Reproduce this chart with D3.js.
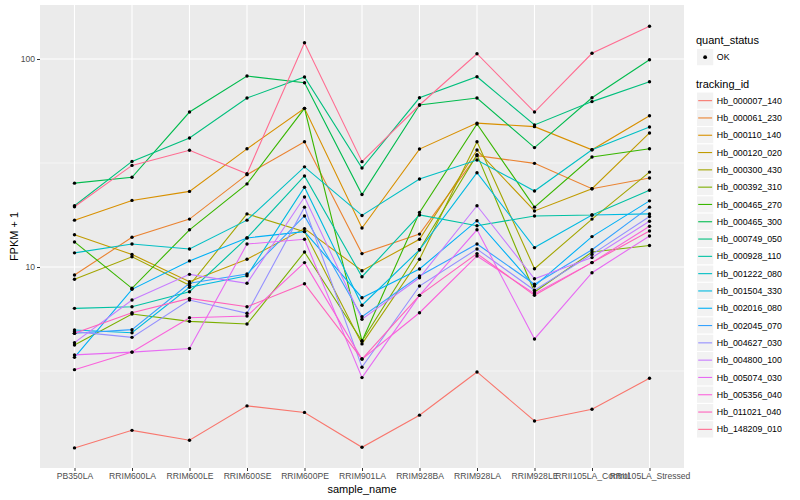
<!DOCTYPE html>
<html>
<head>
<meta charset="utf-8">
<script src="https://cdn.jsdelivr.net/npm/d3@7"></script>
<style>
  body { margin: 0; background: #fff; }
  svg { font-family: "Liberation Sans", Arial, sans-serif; }
</style>
</head>
<body>
<svg id="chart" width="800" height="500"></svg>
<script>
const sampleNames = ['PB350LA', 'RRIM600LA', 'RRIM600LE', 'RRIM600SE', 'RRIM600PE', 'RRIM901LA',
  'RRIM928BA', 'RRIM928LA', 'RRIM928LE', 'RRII105LA_Control', 'RRII105LA_Stressed'];

// FPKM + 1, one array per gene, in sample order
const hb_000007_140 = [1.35, 1.64, 1.47, 2.15, 2.00, 1.36, 1.94, 3.13, 1.82, 2.07, 2.92];
const hb_000061_230 = [9.15, 13.9, 17.0, 27.8, 40.0, 11.6, 14.4, 34.3, 31.5, 23.8, 26.8];
const hb_000110_140 = [16.8, 20.9, 23.1, 37.0, 57.9, 15.4, 36.9, 49.2, 47.3, 36.6, 53.4];
const hb_000120_020 = [14.3, 11.5, 8.50, 10.9, 15.3, 9.60, 13.6, 36.5, 18.6, 23.8, 44.1];
const hb_000300_430 = [8.73, 11.2, 8.17, 18.0, 14.8, 4.27, 10.9, 40.0, 9.81, 17.0, 28.6];
const hb_000392_310 = [4.22, 5.94, 5.48, 5.32, 11.8, 4.41, 12.1, 34.7, 7.58, 11.8, 12.7];
const hb_000465_270 = [13.2, 7.90, 15.1, 25.1, 57.9, 4.41, 18.3, 48.7, 19.4, 33.8, 37.0];
const hb_000465_300 = [25.3, 27.0, 55.6, 82.8, 76.9, 22.3, 60.1, 64.9, 37.5, 65.1, 99.2];
const hb_000749_050 = [19.7, 32.2, 41.7, 64.9, 81.9, 29.9, 65.1, 82.2, 48.2, 62.4, 77.8];
const hb_000928_110 = [6.33, 6.44, 7.61, 13.8, 27.4, 8.98, 17.8, 15.8, 17.6, 17.8, 23.4];
const hb_001222_080 = [11.7, 12.9, 12.2, 16.8, 30.3, 17.7, 26.5, 32.7, 23.2, 36.6, 47.1];
const hb_001504_330 = [4.98, 4.83, 7.99, 9.08, 24.2, 6.55, 12.1, 28.4, 12.4, 17.8, 18.0];
const hb_002016_080 = [3.68, 7.81, 10.7, 13.8, 14.8, 7.12, 9.78, 16.7, 8.10, 14.0, 20.8];
const hb_002045_070 = [4.80, 5.00, 8.35, 9.25, 17.6, 5.77, 9.05, 12.9, 8.26, 12.1, 19.4];
const hb_004627_030 = [4.89, 4.59, 6.94, 5.99, 19.4, 3.30, 8.10, 12.2, 7.73, 11.5, 17.5];
const hb_004800_100 = [4.33, 6.94, 9.22, 8.35, 21.7, 5.61, 8.88, 19.7, 8.78, 11.1, 16.6];
const hb_005074_030 = [3.78, 3.90, 4.06, 12.9, 13.6, 2.94, 7.31, 15.1, 4.51, 9.39, 14.1];
const hb_005356_040 = [3.21, 3.90, 5.70, 5.81, 10.5, 3.61, 6.03, 11.3, 7.44, 10.5, 15.7];
const hb_011021_040 = [4.80, 6.03, 7.07, 6.44, 8.31, 3.61, 7.31, 11.6, 7.31, 10.5, 14.9];
const hb_148209_010 = [19.5, 30.8, 36.4, 28.1, 119.7, 32.1, 60.1, 106, 55.6, 106.5, 143.6];

const trackingIds = ['Hb_000007_140', 'Hb_000061_230', 'Hb_000110_140', 'Hb_000120_020', 'Hb_000300_430',
  'Hb_000392_310', 'Hb_000465_270', 'Hb_000465_300', 'Hb_000749_050', 'Hb_000928_110', 'Hb_001222_080',
  'Hb_001504_330', 'Hb_002016_080', 'Hb_002045_070', 'Hb_004627_030', 'Hb_004800_100', 'Hb_005074_030',
  'Hb_005356_040', 'Hb_011021_040', 'Hb_148209_010'];
const seriesValues = [hb_000007_140, hb_000061_230, hb_000110_140, hb_000120_020, hb_000300_430,
  hb_000392_310, hb_000465_270, hb_000465_300, hb_000749_050, hb_000928_110, hb_001222_080,
  hb_001504_330, hb_002016_080, hb_002045_070, hb_004627_030, hb_004800_100, hb_005074_030,
  hb_005356_040, hb_011021_040, hb_148209_010];
const quantStatus = ['OK'];
const yTicks = [10, 100];
const yMinorTicks = [3.1623, 31.623];

// ggplot hue palette for 20 levels
const palette = ['#F8766D', '#EA8331', '#D89000', '#C09B00', '#A3A500', '#7CAE00', '#39B600', '#00BB4E',
  '#00BF7D', '#00C1A3', '#00BFC4', '#00BAE0', '#00B0F6', '#35A2FF', '#9590FF', '#C77CFF', '#E76BF3',
  '#FA62DB', '#FF62BC', '#FF6C91'];

const panel = { left: 40, right: 684, top: 5, bottom: 468 };
const svg = d3.select('#chart');

const x = d3.scalePoint()
  .domain(sampleNames)
  .range([panel.left, panel.right])
  .padding(0.6);

const y = d3.scaleLog()
  .domain([1.081, 181.8])
  .range([panel.bottom, panel.top]);

const color = d3.scaleOrdinal().domain(trackingIds).range(palette);

const series = trackingIds.map((id, i) => ({ id, values: seriesValues[i] }));

// panel + grid
svg.append('rect')
  .attr('x', panel.left).attr('y', panel.top)
  .attr('width', panel.right - panel.left).attr('height', panel.bottom - panel.top)
  .attr('fill', '#EBEBEB');

const grid = svg.append('g').attr('stroke', '#fff');
grid.selectAll('.minor').data(yMinorTicks).enter().append('line')
  .attr('x1', panel.left).attr('x2', panel.right)
  .attr('y1', d => y(d)).attr('y2', d => y(d))
  .attr('stroke-width', 0.55);
grid.selectAll('.major').data(yTicks).enter().append('line')
  .attr('x1', panel.left).attr('x2', panel.right)
  .attr('y1', d => y(d)).attr('y2', d => y(d))
  .attr('stroke-width', 1.1);
grid.selectAll('.vmajor').data(sampleNames).enter().append('line')
  .attr('x1', d => x(d)).attr('x2', d => x(d))
  .attr('y1', panel.top).attr('y2', panel.bottom)
  .attr('stroke-width', 1.1);

// lines
const line = d3.line()
  .x((d, i) => x(sampleNames[i]))
  .y(d => y(d));

svg.append('g').selectAll('path')
  .data(series)
  .enter().append('path')
  .attr('d', d => line(d.values))
  .attr('fill', 'none')
  .attr('stroke', d => color(d.id))
  .attr('stroke-width', 1.1);

// points
const pts = series.flatMap(s => s.values.map((v, i) => ({ sample: sampleNames[i], v })));
svg.append('g').selectAll('circle')
  .data(pts)
  .enter().append('circle')
  .attr('cx', d => x(d.sample))
  .attr('cy', d => y(d.v))
  .attr('r', 1.7)
  .attr('fill', '#000');

// axes
const yAxis = svg.append('g')
  .attr('transform', `translate(${panel.left},0)`)
  .call(d3.axisLeft(y).tickValues(yTicks).tickFormat(d3.format('d')).tickSize(3).tickPadding(2));
const xAxis = svg.append('g')
  .attr('transform', `translate(0,${panel.bottom})`)
  .call(d3.axisBottom(x).tickSize(3).tickPadding(2));

[yAxis, xAxis].forEach(a => {
  a.select('.domain').remove();
  a.selectAll('line').attr('stroke', '#333333');
  a.selectAll('text').attr('fill', '#4D4D4D').attr('font-size', '8.6px')
    .attr('font-family', '"Liberation Sans", Arial, sans-serif');
});

svg.append('text')
  .attr('x', (panel.left + panel.right) / 2).attr('y', 493)
  .attr('text-anchor', 'middle').attr('font-size', '11px')
  .text('sample_name');

svg.append('text')
  .attr('transform', `translate(18,${(panel.top + panel.bottom) / 2}) rotate(-90)`)
  .attr('text-anchor', 'middle').attr('font-size', '11px')
  .text('FPKM + 1');

// legends
const keySize = 17.3;
const legend = svg.append('g').attr('transform', 'translate(696,0)');

legend.append('text').attr('x', 0).attr('y', 44).attr('font-size', '11px').text('quant_status');
const qs = legend.selectAll('.qs').data(quantStatus).enter().append('g')
  .attr('transform', (d, i) => `translate(0.5,${48.5 + i * keySize})`);
qs.append('rect').attr('width', keySize).attr('height', keySize)
  .attr('fill', '#F2F2F2').attr('stroke', '#fff');
qs.append('circle').attr('cx', keySize / 2).attr('cy', keySize / 2).attr('r', 1.9).attr('fill', '#000');
qs.append('text').attr('x', keySize + 3).attr('y', keySize / 2).attr('dy', '0.35em')
  .attr('font-size', '8.8px').text(d => d);

legend.append('text').attr('x', 0).attr('y', 88).attr('font-size', '11px').text('tracking_id');
const keys = legend.selectAll('.tk').data(trackingIds).enter().append('g')
  .attr('transform', (d, i) => `translate(0.5,${92 + i * keySize})`);
keys.append('rect').attr('width', keySize).attr('height', keySize)
  .attr('fill', '#F2F2F2').attr('stroke', '#fff');
keys.append('line')
  .attr('x1', 1.7).attr('x2', keySize - 1.7)
  .attr('y1', keySize / 2).attr('y2', keySize / 2)
  .attr('stroke', d => color(d)).attr('stroke-width', 1.1);
keys.append('text').attr('x', keySize + 3).attr('y', keySize / 2).attr('dy', '0.35em')
  .attr('font-size', '8.8px').text(d => d);
</script>
</body>
</html>
